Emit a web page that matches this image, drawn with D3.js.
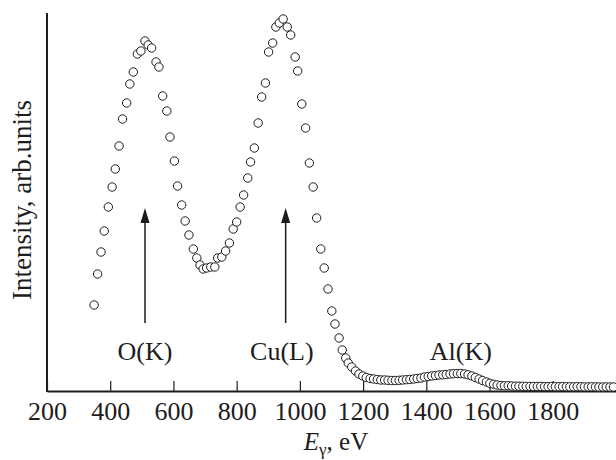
<!DOCTYPE html>
<html>
<head>
<meta charset="utf-8">
<script src="https://cdn.jsdelivr.net/npm/d3@7"></script>
<style>
  body { margin: 0; background: #fff; }
  svg { display: block; font-family: "Liberation Serif", "Times New Roman", serif; }
</style>
</head>
<body>
<svg width="616" height="460"></svg>
<script>
"use strict";

// photon energy, eV
const energy = [
  349, 360, 371, 381, 394, 406, 416, 428, 439, 452, 462, 473, 486, 497, 510, 520,
  531, 545, 554, 566, 579, 589, 603, 613, 626, 637, 649, 663, 674, 684, 694, 705,
  718, 731, 740, 753, 765, 777, 789, 800, 811, 822, 835, 844, 856, 868, 879, 891,
  901, 914, 924, 935, 947, 960, 971, 985, 993, 1006, 1018, 1030, 1042, 1053, 1066, 1077,
  1089, 1101, 1111, 1124, 1134, 1145, 1153, 1164, 1176, 1187, 1199, 1210, 1222, 1233, 1245, 1256,
  1268, 1279, 1291, 1302, 1314, 1325, 1337, 1348, 1360, 1371, 1383, 1394, 1406, 1417, 1429, 1440,
  1452, 1463, 1475, 1486, 1498, 1509, 1521, 1532, 1544, 1555, 1567, 1578, 1590, 1601, 1613, 1624,
  1636, 1647, 1659, 1670, 1682, 1693, 1705, 1716, 1728, 1739, 1751, 1762, 1774, 1785, 1797, 1808,
  1820, 1831, 1843, 1854, 1866, 1877, 1889, 1900, 1912, 1923, 1935, 1946, 1958, 1969, 1981, 1992
];

// intensity, arb. units
const intensity = [
  86, 117, 139, 160, 184, 204, 222, 245, 272, 288, 307, 319, 337, 340, 350, 346,
  343, 329, 324, 295, 280, 254, 230, 205, 186, 170, 156, 142, 133, 126, 122, 123,
  124, 124, 133, 134, 140, 148, 162, 169, 184, 196, 213, 229, 243, 268, 294, 308,
  339, 348, 364, 368, 372, 364, 356, 334, 320, 287, 263, 228, 204, 173, 142, 123,
  102, 80, 67, 53, 41, 33, 28, 24, 20, 17, 15, 13.5, 12.5, 12, 11.5, 11,
  11, 10.7, 10.5, 10.5, 10.7, 11, 11.3, 11.5, 12, 12.5, 13, 14, 14.5, 15, 15.5, 16,
  16.2, 16.5, 17, 17.3, 17.5, 17.5, 17, 16.2, 15, 13.5, 12, 10.5, 9, 7.7, 6.7, 6,
  5.5, 5.2, 5.3, 5, 4.8, 4.8, 4.7, 4.6, 4.6, 4.5, 4.5, 4.6, 4.4, 4.4, 4.5, 4.3,
  4.3, 4.4, 4.3, 4.2, 4.2, 4.3, 4.2, 4.1, 4.1, 4.2, 4.1, 4, 4, 4.1, 4, 4
];

const xTicks = [200, 400, 600, 800, 1000, 1200, 1400, 1600, 1800];

const peaks = ["O(K)", "Cu(L)", "Al(K)"];
const peakLabelE = [510, 943, 1509];
const arrowE = [510, 955];

const points = energy.map((e, i) => ({ e: e, v: intensity[i] }));

window.addEventListener("load", drawGraph);

function drawGraph() {
  const svg = d3.select("svg");
  const ink = "#1e1c1d";
  const margin = { top: 13, right: 0, bottom: 69, left: 47 };
  const width = +svg.attr("width") - margin.left - margin.right;
  const height = +svg.attr("height") - margin.top - margin.bottom;

  const x = d3.scaleLinear().domain([200, 2000]).range([0, width]);
  const y = d3.scaleLinear().domain([0, 378]).range([height, 0]);

  const g = svg.append("g").attr("transform", `translate(${margin.left},${margin.top})`);

  // bottom axis, ticks pointing inward
  const xAxis = g.append("g")
    .attr("transform", `translate(0,${height})`)
    .call(d3.axisBottom(x).tickValues(xTicks).tickFormat(d3.format("d"))
      .tickSize(-10).tickPadding(11).tickSizeOuter(0));
  xAxis.select(".domain").attr("stroke", ink).attr("stroke-width", 2);
  xAxis.selectAll(".tick line").attr("stroke", ink).attr("stroke-width", 1.2);
  xAxis.selectAll(".tick text")
    .attr("fill", ink)
    .style("font-size", "26px")
    .style("font-family", "Liberation Serif, Times New Roman, serif");

  // left axis, no ticks
  g.append("line")
    .attr("x1", 0).attr("x2", 0)
    .attr("y1", 0).attr("y2", height + 1)
    .attr("stroke", ink)
    .attr("stroke-width", 2);

  // arrows under the two main peaks
  const tip = y(183);
  g.selectAll(".arrow")
    .data(arrowE)
    .enter()
    .append("line")
    .attr("class", "arrow")
    .attr("x1", (d) => x(d)).attr("x2", (d) => x(d))
    .attr("y1", y(68)).attr("y2", tip + 10)
    .attr("stroke", ink)
    .attr("stroke-width", 1.5);

  g.selectAll(".head")
    .data(arrowE)
    .enter()
    .append("path")
    .attr("class", "head")
    .attr("d", (d) => `M${x(d)},${tip} L${x(d) - 4.5},${tip + 15} L${x(d) + 4.5},${tip + 15} Z`)
    .attr("fill", ink);

  g.selectAll(".peak")
    .data(peaks)
    .enter()
    .append("text")
    .attr("class", "peak")
    .attr("x", (d, i) => x(peakLabelE[i]))
    .attr("y", y(31))
    .attr("text-anchor", "middle")
    .attr("fill", ink)
    .style("font-size", "26px")
    .text((d) => d);

  // data points
  g.selectAll(".pt")
    .data(points)
    .enter()
    .append("circle")
    .attr("class", "pt")
    .attr("cx", (d) => x(d.e))
    .attr("cy", (d) => y(d.v))
    .attr("r", 4.2)
    .attr("fill", "#fff")
    .attr("stroke", ink)
    .attr("stroke-width", 1);

  // axis titles
  const xLabel = svg.append("text")
    .attr("x", 336)
    .attr("y", 450)
    .attr("text-anchor", "middle")
    .attr("fill", ink)
    .style("font-size", "25px");
  xLabel.append("tspan").style("font-style", "italic").text("E");
  xLabel.append("tspan").attr("dy", 5).style("font-size", "17px").text("γ");
  xLabel.append("tspan").attr("dy", -5).text(", eV");

  svg.append("text")
    .attr("transform", "translate(31,200) rotate(-90)")
    .attr("text-anchor", "middle")
    .attr("fill", ink)
    .style("font-size", "27px")
    .text("Intensity, arb.units");
}
</script>
</body>
</html>
